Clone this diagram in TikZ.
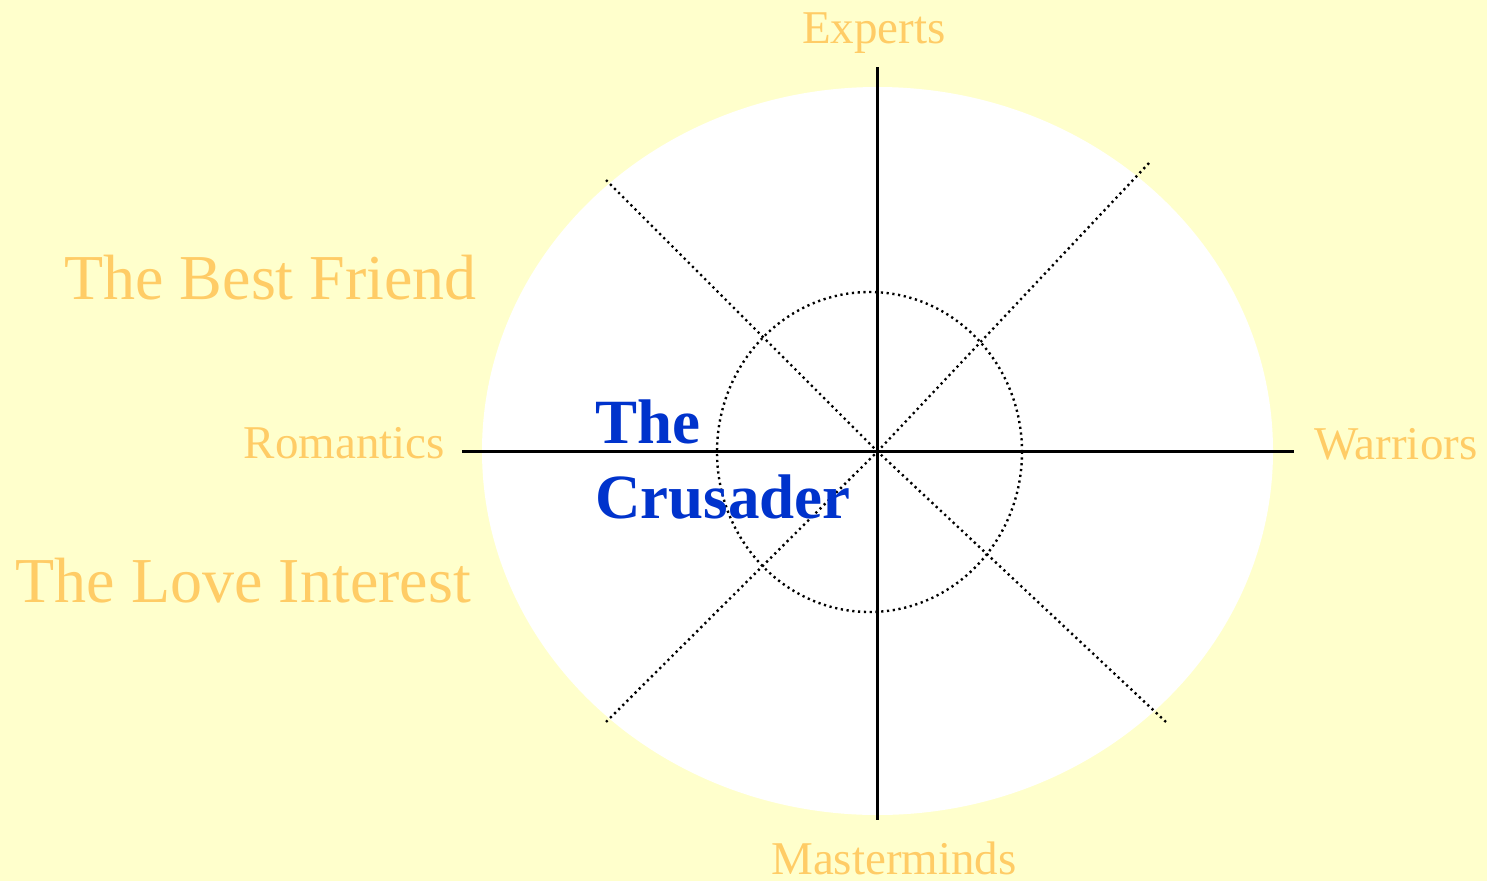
\documentclass[tikz,border=0pt]{standalone}
\usepackage{fontspec}
\setmainfont{Liberation Serif}
\definecolor{bgyellow}{HTML}{FFFFCC}
\definecolor{lblorange}{HTML}{FFCC66}
\definecolor{crusblue}{HTML}{0033CC}
\begin{document}
\begin{tikzpicture}[x=1pt,y=-1pt,
  axis/.style={draw=black,line width=2.4pt},
  dotline/.style={draw=black,line width=2.4pt,dash pattern=on 2.2pt off 3.6pt},
  smalllbl/.style={text=lblorange,font=\fontsize{47}{56}\selectfont,inner sep=0pt},
  biglbl/.style={text=lblorange,font=\fontsize{64}{75}\selectfont,inner sep=0pt},
  crus/.style={text=crusblue,font=\fontsize{63}{75}\selectfont\bfseries,inner sep=0pt,align=left}]
\fill[bgyellow] (0,0) rectangle (1487,881);
\useasboundingbox (0,0) rectangle (1487,881);
\fill[white] (877.5,451) ellipse [x radius=395.5pt, y radius=364pt];
\coordinate (c) at (877.5,451.5);
\coordinate (top) at (877.5,67);
\coordinate (bot) at (877.5,820);
\coordinate (lft) at (462,451.5);
\coordinate (rgt) at (1294,451.5);
\coordinate (ul) at (606,180);
\coordinate (ur) at (1149,163);
\coordinate (ll) at (606,722);
\coordinate (lr) at (1166,722);
\draw[dotline] (869.5,452) ellipse [x radius=152.5pt, y radius=160pt];
\draw[dotline] (ul) -- (c) -- (lr);
\draw[dotline] (ur) -- (c) -- (ll);
\draw[axis] (top) -- (bot);
\draw[axis] (lft) -- (rgt);
\node[smalllbl,anchor=base] (experts) at (874,43) {Experts};
\node[smalllbl,anchor=base] (masterminds) at (894,874) {Masterminds};
\node[smalllbl,anchor=base east] (romantics) at (445,458) {Romantics};
\node[smalllbl,anchor=base west] (warriors) at (1314,459) {Warriors};
\node[biglbl,anchor=base east] (bestfriend) at (477,299) {The Best Friend};
\node[biglbl,anchor=base east] (loveinterest) at (471,602) {The Love Interest};
\node[crus,anchor=base west] (the) at (595,443) {The};
\node[crus,anchor=base west] (crusader) at (595,518) {Crusader};
\end{tikzpicture}
\end{document}
